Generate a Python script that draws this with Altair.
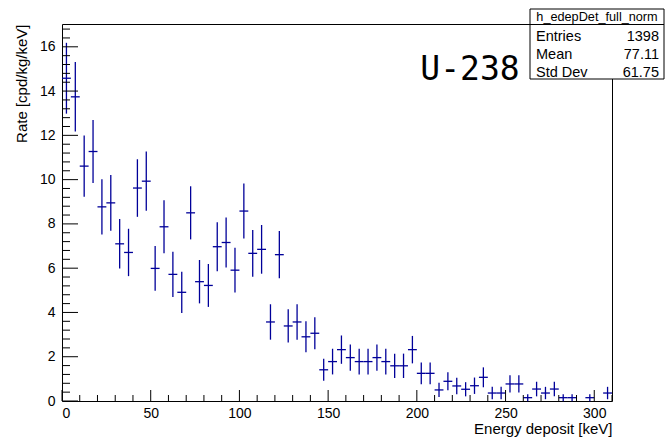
import altair as alt
import pandas as pd

# ---- data (5 keV bins, 0-310 keV) ----
bin_lo = list(range(0, 310, 5))
rate = [14.58, 13.74, 10.61, 11.27, 8.77, 8.95, 7.10, 6.71, 9.62, 9.93,
        5.99, 7.87, 5.72, 4.91, 8.50, 5.39, 5.22, 6.97, 7.16, 5.91,
        8.58, 6.67, 6.85, 3.57, 6.61, 3.39, 3.57, 2.90, 3.06, 1.41,
        1.78, 2.32, 1.96, 1.78, 1.78, 1.96, 1.78, 1.59, 1.59, 2.32,
        1.25, 1.25, 0.50, 0.89, 0.68, 0.53, 0.69, 1.07, 0.36, 0.36,
        0.77, 0.77, 0.15, 0.54, 0.36, 0.54, 0.15, 0.15, 0.0, 0.15,
        0.0, 0.36]
err = [1.60, 1.57, 1.38, 1.42, 1.25, 1.26, 1.12, 1.07, 1.30, 1.34,
       1.01, 1.20, 1.02, 0.93, 1.20, 0.98, 0.97, 1.11, 1.13, 1.01,
       1.24, 1.06, 1.10, 0.80, 1.07, 0.75, 0.80, 0.70, 0.72, 0.50,
       0.58, 0.64, 0.59, 0.58, 0.58, 0.59, 0.58, 0.55, 0.55, 0.62,
       0.49, 0.49, 0.32, 0.41, 0.37, 0.32, 0.37, 0.45, 0.28, 0.28,
       0.39, 0.39, 0.16, 0.33, 0.28, 0.33, 0.16, 0.16, 0.0, 0.16,
       0.0, 0.28]
bin_width = 5

x_major = [0, 50, 100, 150, 200, 250, 300]
x_minor = [v for v in range(0, 311, 10) if v % 50]
y_major = [0, 2, 4, 6, 8, 10, 12, 14, 16]
y_minor = [round(i * 0.4, 1) for i in range(1, 43) if i % 5]

stat_title = "h_edepDet_full_norm"
stat_names = ["Entries", "Mean", "Std Dev"]
stat_values = ["1398", "77.11", "61.75"]
label_text = "U-238"

# ---- build table ----
df = pd.DataFrame({"lo": bin_lo, "rate": rate, "err": err})
df["hi"] = df["lo"] + bin_width
df["mid"] = df["lo"] + bin_width / 2
df["elo"] = df["rate"] - df["err"]
df["ehi"] = df["rate"] + df["err"]
df = df[df["rate"] > 0]

W, H = 550, 377
FONT = "Liberation Sans"
COL = "#000099"
xs = alt.Scale(domain=[0, 310], nice=False, zero=False)
ys = alt.Scale(domain=[0, 17.03], nice=False, zero=False)

x_axis = alt.Axis(values=x_major, format="d", ticks=False, domain=False, grid=False,
                  labelFont=FONT, labelFontSize=14, labelColor="black", labelPadding=5,
                  title="Energy deposit [keV]", titleFont=FONT, titleFontSize=15,
                  titleFontWeight="normal", titleColor="black", titleAlign="right",
                  titleAnchor="end", titleX=W, titleY=32, titleBaseline="alphabetic")
y_axis = alt.Axis(values=y_major, format="d", ticks=False, domain=False, grid=False,
                  labelFont=FONT, labelFontSize=14, labelColor="black", labelPadding=7,
                  title="Rate [cpd/kg/keV]", titleFont=FONT, titleFontSize=15,
                  titleFontWeight="normal", titleColor="black", titleAngle=-90,
                  titleAlign="right", titleAnchor="end", titleX=-36, titleY=0,
                  titleBaseline="alphabetic")

def X(f):
    return alt.X(f, scale=xs, axis=x_axis, title="Energy deposit [keV]")

def Y(f):
    return alt.Y(f, scale=ys, axis=y_axis, title="Rate [cpd/kg/keV]")

base = alt.Chart(df)
vbars = base.mark_rule(color=COL, strokeWidth=1.3).encode(
    x=X("mid:Q"), y=Y("elo:Q"), y2="ehi:Q")
hbars = base.mark_rule(color=COL, strokeWidth=1.3).encode(
    x=X("lo:Q"), x2="hi:Q", y=Y("rate:Q"))

xmaj = alt.Chart(pd.DataFrame({"t": x_major})).mark_rule(color="black", strokeWidth=1).encode(
    x=X("t:Q"), y=alt.value(H), y2=alt.value(H - 11))
xmin = alt.Chart(pd.DataFrame({"t": x_minor})).mark_rule(color="black", strokeWidth=1).encode(
    x=X("t:Q"), y=alt.value(H), y2=alt.value(H - 6))
ymaj = alt.Chart(pd.DataFrame({"t": y_major})).mark_rule(color="black", strokeWidth=1).encode(
    y=Y("t:Q"), x=alt.value(0), x2=alt.value(16))
ymin = alt.Chart(pd.DataFrame({"t": y_minor})).mark_rule(color="black", strokeWidth=1).encode(
    y=Y("t:Q"), x=alt.value(0), x2=alt.value(8))

one = pd.DataFrame({"a": [0]})
big = alt.Chart(one).mark_text(font="DejaVu Sans Mono", fontSize=33, color="black",
                               align="center", baseline="middle").encode(
    x=alt.value(408), y=alt.value(46), text=alt.value(label_text))

box = alt.Chart(one).mark_rect(fill="white", stroke="black", strokeWidth=1).encode(
    x=alt.value(468), x2=alt.value(602), y=alt.value(-15), y2=alt.value(55))
hdr_line = alt.Chart(one).mark_rule(color="black", strokeWidth=1).encode(
    x=alt.value(468), x2=alt.value(602), y=alt.value(0.5))
hdr = alt.Chart(one).mark_text(font=FONT, fontSize=12.7, color="black",
                               align="center", baseline="alphabetic").encode(
    x=alt.value(535), y=alt.value(-3), text=alt.value(stat_title))

stat_layers = []
row_y = [16.5, 34.5, 52.5]
for name, val, ry in zip(stat_names, stat_values, row_y):
    stat_layers.append(alt.Chart(one).mark_text(font=FONT, fontSize=14.5, color="black",
                                                align="left", baseline="alphabetic").encode(
        x=alt.value(474), y=alt.value(ry), text=alt.value(name)))
    stat_layers.append(alt.Chart(one).mark_text(font=FONT, fontSize=14.5, color="black",
                                                align="right", baseline="alphabetic").encode(
        x=alt.value(597), y=alt.value(ry), text=alt.value(val)))

chart = alt.layer(vbars, hbars, xmaj, xmin, ymaj, ymin, big, box, hdr_line, hdr, *stat_layers).properties(
    width=W, height=H,
    padding={"left": 62, "top": 24, "right": 54, "bottom": 39},
    autosize=alt.AutoSizeParams(type="none"),
    background="white",
).configure_view(stroke="black", strokeWidth=1)

chart.save("out.html", embed_options={"renderer": "svg", "actions": False})
